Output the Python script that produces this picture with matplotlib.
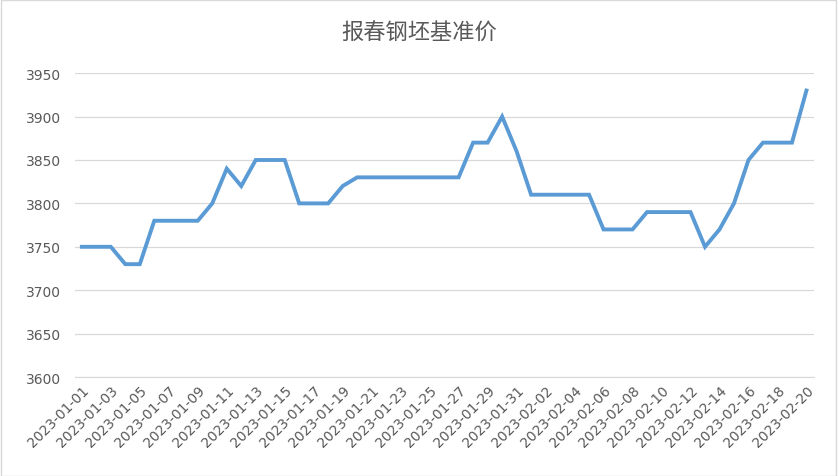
import matplotlib
matplotlib.use("Agg")
import matplotlib.pyplot as plt
import pandas as pd

dates = pd.date_range("2023-01-01", "2023-02-20").strftime("%Y-%m-%d").tolist()
prices = [3750, 3750, 3750, 3730, 3730, 3780, 3780, 3780, 3780, 3800,
          3840, 3820, 3850, 3850, 3850, 3800, 3800, 3800, 3820, 3830,
          3830, 3830, 3830, 3830, 3830, 3830, 3830, 3870, 3870, 3900,
          3860, 3810, 3810, 3810, 3810, 3810, 3770, 3770, 3770, 3790,
          3790, 3790, 3790, 3750, 3770, 3800, 3850, 3870, 3870, 3870, 3930]
title = "报春钢坯基准价"

fig = plt.figure(figsize=(8.38, 4.77), dpi=100)
fig.patches.append(plt.Rectangle((0.001, 0.001), 0.997, 0.997, transform=fig.transFigure,
                                 fill=False, edgecolor="#d9d9d9", linewidth=1))
ax = fig.add_axes([0.089, 0.2075, 0.882, 0.637])
x = list(range(len(dates)))
ax.plot(x, prices, color="#5b9bd5", linewidth=2.8, solid_joinstyle="miter")
ax.set_ylim(3600, 3950)
ax.set_yticks(range(3600, 3951, 50))
ax.set_xlim(-0.5, len(dates) - 0.5)
ax.set_xticks(x[::2])
ax.set_xticklabels(dates[::2], rotation=45, ha="right", rotation_mode="anchor",
                   fontsize=10, color="#595959")
ax.tick_params(axis="y", labelsize=10, labelcolor="#595959", length=0, pad=10)
ax.tick_params(axis="x", length=0, pad=4)
ax.grid(axis="y", color="#d9d9d9", linewidth=0.9)
ax.set_axisbelow(True)
for s in ["top", "right", "left"]:
    ax.spines[s].set_visible(False)
ax.spines["bottom"].set_color("#d9d9d9")
fig.text(0.5, 0.93, title, ha="center", va="center", fontsize=16, color="#595959",
         fontfamily="Noto Sans CJK SC")
fig.savefig("out.png", dpi=100)
